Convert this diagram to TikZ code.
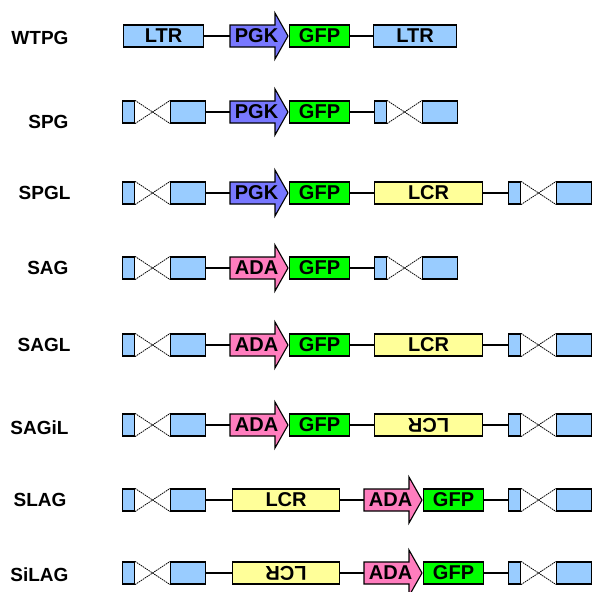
\documentclass[tikz,border=0pt]{standalone}
\usepackage{graphicx}
\usepackage{fontspec}
\setmainfont{Liberation Sans}
\usetikzlibrary{calc}

\definecolor{ltrblue}{RGB}{153,204,255}
\definecolor{pgkblue}{RGB}{120,120,255}
\definecolor{gfpgreen}{RGB}{0,255,0}
\definecolor{lcryellow}{RGB}{255,255,153}
\definecolor{adapink}{RGB}{255,125,190}

\tikzset{
  part/.style={draw=black, line width=1.1pt, minimum height=22pt, inner sep=0pt,
    anchor=west, font=\bfseries\fontsize{20}{20}\selectfont},
  ltr/.style={part, fill=ltrblue},
  gfp/.style={part, fill=gfpgreen, minimum width=60pt},
  lcr/.style={part, fill=lcryellow},
  prom/.style={part, draw=none, minimum width=52pt},
  construct/.style={font=\bfseries\fontsize{19}{19}\selectfont, anchor=east},
  link/.style={line width=1.1pt},
  cross/.style={line width=0.8pt, dash pattern=on 1.5pt off 0.8pt}
}

% promoter arrow: name, x, y, colour, text
\newcommand{\promoter}[5]{%
  \filldraw[link, fill=#4] (#2,#3) ++(0pt,11pt) -- ++(45pt,0pt) -- ++(0pt,12pt)
    -- ++(13pt,-23pt) -- ++(-13pt,-23pt) -- ++(0pt,12pt) -- ++(-45pt,0pt) -- cycle;
  \node[prom] (#1) at (#2,#3) {#5};
}
% deleted LTR: name, x, y
\newcommand{\sinltr}[3]{%
  \node[ltr, minimum width=12pt] (#1s) at (#2,#3) {};
  \node[ltr, minimum width=35pt] (#1b) at ({#2+48},#3) {};
  \draw[cross] (#1s.north east) -- (#1b.south west);
  \draw[cross] (#1s.south east) -- (#1b.north west);
}

\begin{document}
\begin{tikzpicture}[x=1pt, y=-1pt]
    \useasboundingbox (0,0) rectangle (592,592);

    % WTPG
    \node[construct] (wtpg) at (72,38) {WTPG};
    \node[ltr, minimum width=80pt] (ltr1a) at (123,36) {LTR};
    \promoter{pgk1}{230}{36}{pgkblue}{PGK}
    \node[gfp] (gfp1) at (289,36) {GFP};
    \node[ltr, minimum width=83pt] (ltr1b) at (373,36) {LTR};
    \draw[link] (ltr1a.east) -- (pgk1.west);
    \draw[link] (gfp1.east) -- (ltr1b.west);

    % SPG
    \node[construct] (spg) at (72,122) {SPG};
    \sinltr{sin2a}{122}{112}
    \promoter{pgk2}{230}{112}{pgkblue}{PGK}
    \node[gfp] (gfp2) at (289,112) {GFP};
    \sinltr{sin2b}{374}{112}
    \draw[link] (sin2ab.east) -- (pgk2.west);
    \draw[link] (gfp2.east) -- (sin2bs.west);

    % SPGL
    \node[construct] (spgl) at (74,193) {SPGL};
    \sinltr{sin3a}{122}{193}
    \promoter{pgk3}{230}{193}{pgkblue}{PGK}
    \node[gfp] (gfp3) at (289,193) {GFP};
    \node[lcr, minimum width=108pt] (lcr3) at (374,193) {LCR};
    \sinltr{sin3b}{508}{193}
    \draw[link] (sin3ab.east) -- (pgk3.west);
    \draw[link] (gfp3.east) -- (lcr3.west);
    \draw[link] (lcr3.east) -- (sin3bs.west);

    % SAG
    \node[construct] (sag) at (72,268) {SAG};
    \sinltr{sin4a}{122}{268}
    \promoter{ada4}{230}{268}{adapink}{ADA}
    \node[gfp] (gfp4) at (289,268) {GFP};
    \sinltr{sin4b}{374}{268}
    \draw[link] (sin4ab.east) -- (ada4.west);
    \draw[link] (gfp4.east) -- (sin4bs.west);

    % SAGL
    \node[construct] (sagl) at (74,345) {SAGL};
    \sinltr{sin5a}{122}{345}
    \promoter{ada5}{230}{345}{adapink}{ADA}
    \node[gfp] (gfp5) at (289,345) {GFP};
    \node[lcr, minimum width=108pt] (lcr5) at (374,345) {LCR};
    \sinltr{sin5b}{508}{345}
    \draw[link] (sin5ab.east) -- (ada5.west);
    \draw[link] (gfp5.east) -- (lcr5.west);
    \draw[link] (lcr5.east) -- (sin5bs.west);

    % SAGiL
    \node[construct] (sagil) at (72,428) {SAGiL};
    \sinltr{sin6a}{122}{425}
    \promoter{ada6}{230}{425}{adapink}{ADA}
    \node[gfp] (gfp6) at (289,425) {GFP};
    \node[lcr, minimum width=108pt] (lcr6) at (374,425) {\rotatebox[origin=c]{180}{LCR}};
    \sinltr{sin6b}{508}{425}
    \draw[link] (sin6ab.east) -- (ada6.west);
    \draw[link] (gfp6.east) -- (lcr6.west);
    \draw[link] (lcr6.east) -- (sin6bs.west);

    % SLAG
    \node[construct] (slag) at (70,500) {SLAG};
    \sinltr{sin7a}{122}{500}
    \node[lcr, minimum width=107pt] (lcr7) at (232,500) {LCR};
    \promoter{ada7}{364}{500}{adapink}{ADA}
    \node[gfp] (gfp7) at (423,500) {GFP};
    \sinltr{sin7b}{508}{500}
    \draw[link] (sin7ab.east) -- (lcr7.west);
    \draw[link] (lcr7.east) -- (ada7.west);
    \draw[link] (gfp7.east) -- (sin7bs.west);

    % SiLAG
    \node[construct] (silag) at (72,575) {SiLAG};
    \sinltr{sin8a}{122}{573}
    \node[lcr, minimum width=107pt] (lcr8) at (232,573) {\rotatebox[origin=c]{180}{LCR}};
    \promoter{ada8}{364}{573}{adapink}{ADA}
    \node[gfp] (gfp8) at (423,573) {GFP};
    \sinltr{sin8b}{508}{573}
    \draw[link] (sin8ab.east) -- (lcr8.west);
    \draw[link] (lcr8.east) -- (ada8.west);
    \draw[link] (gfp8.east) -- (sin8bs.west);
\end{tikzpicture}
\end{document}
